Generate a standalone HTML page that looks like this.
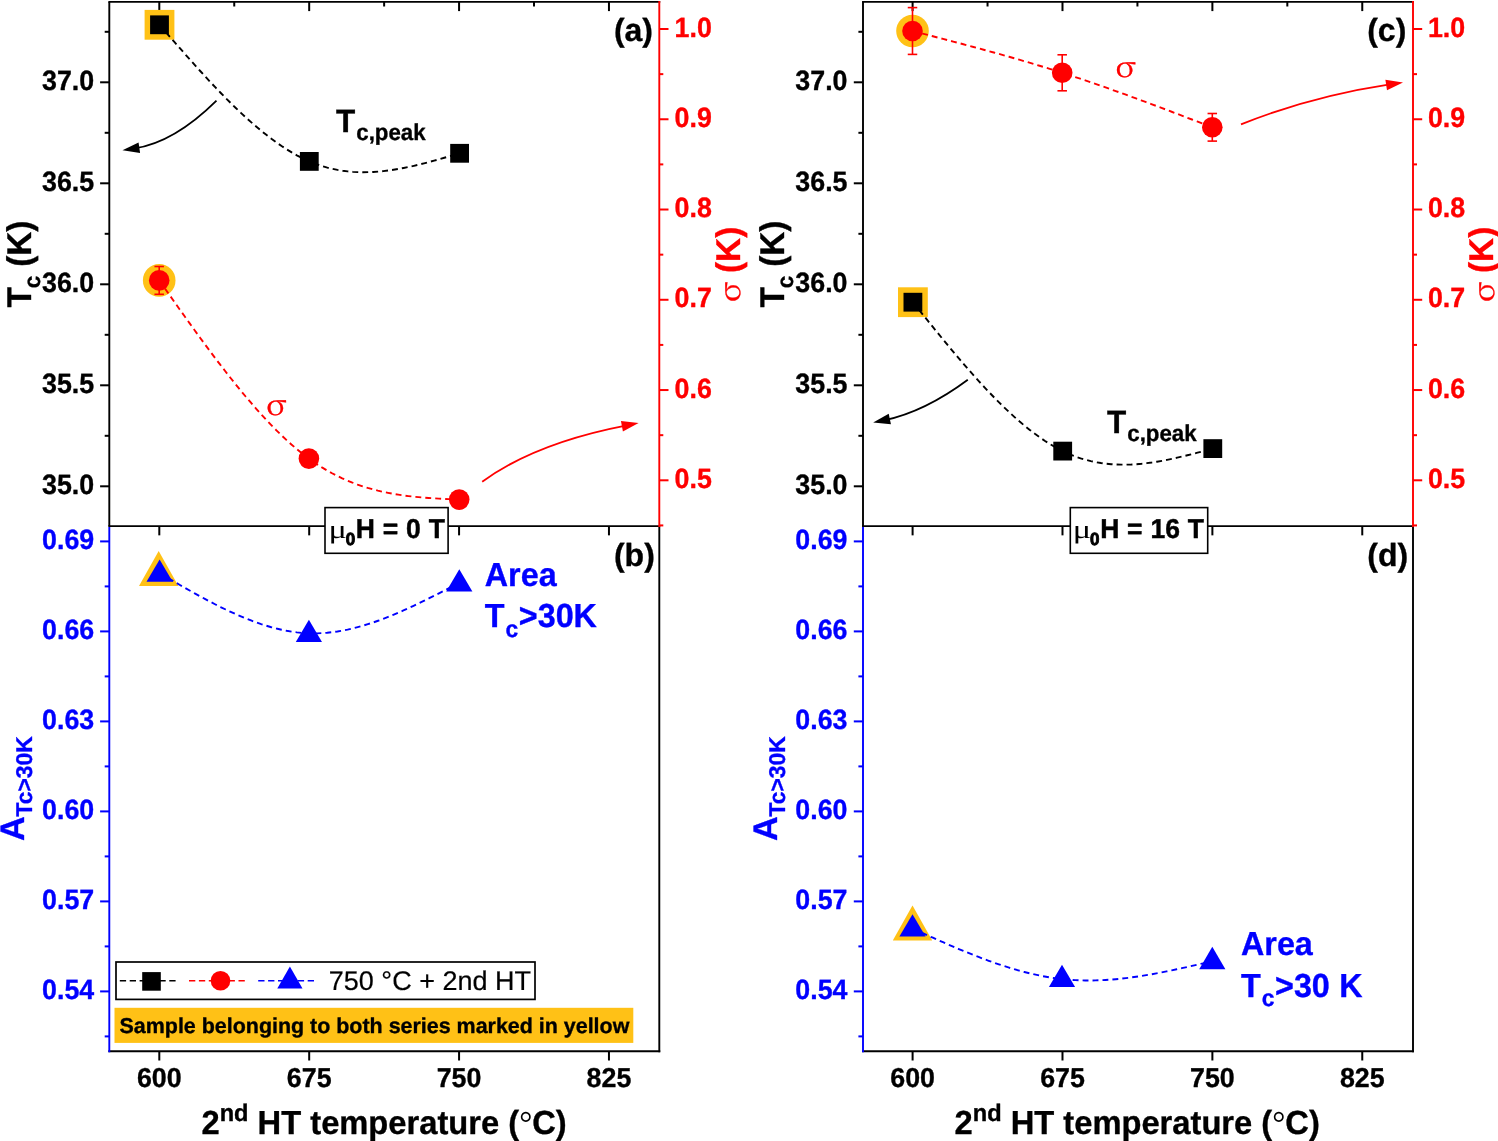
<!DOCTYPE html>
<html lang="en">
<head>
<meta charset="utf-8">
<title>Figure</title>
<style>html,body{margin:0;padding:0;background:#fff}svg{display:block}</style>
</head>
<body>
<svg width="1498" height="1141" viewBox="0 0 1498 1141" style="will-change:transform;text-rendering:geometricPrecision">
<rect x="0" y="0" width="1498" height="1141" fill="#fff"/>
<line x1="108.35" y1="1.9" x2="660.25" y2="1.9" stroke="#000" stroke-width="1.9" />
<line x1="108.35" y1="526.15" x2="660.25" y2="526.15" stroke="#000" stroke-width="1.9" />
<line x1="108.35" y1="1051.3" x2="660.25" y2="1051.3" stroke="#000" stroke-width="1.9" />
<line x1="109.3" y1="1.9" x2="109.3" y2="526.15" stroke="#000" stroke-width="1.9" />
<line x1="109.3" y1="527.1" x2="109.3" y2="1052.25" stroke="#0000ff" stroke-width="1.9" />
<line x1="659.3" y1="0.95" x2="659.3" y2="527.1" stroke="#ff0000" stroke-width="1.9" />
<line x1="659.3" y1="527.1" x2="659.3" y2="1052.25" stroke="#000" stroke-width="1.9" />
<line x1="159.3" y1="1.9" x2="159.3" y2="11.1" stroke="#000" stroke-width="2" />
<line x1="159.3" y1="526.15" x2="159.3" y2="535.35" stroke="#000" stroke-width="2" />
<line x1="159.3" y1="1051.3" x2="159.3" y2="1060.5" stroke="#000" stroke-width="2" />
<text transform="translate(159.3 1087) scale(1 1.02)" font-family="'Liberation Sans', Arial, Helvetica, sans-serif" font-size="26.8" font-weight="bold" fill="#000" stroke="#000" stroke-width="0.35" stroke-linejoin="round" text-anchor="middle">600</text>
<line x1="309.19" y1="1.9" x2="309.19" y2="11.1" stroke="#000" stroke-width="2" />
<line x1="309.19" y1="526.15" x2="309.19" y2="535.35" stroke="#000" stroke-width="2" />
<line x1="309.19" y1="1051.3" x2="309.19" y2="1060.5" stroke="#000" stroke-width="2" />
<text transform="translate(309.19 1087) scale(1 1.02)" font-family="'Liberation Sans', Arial, Helvetica, sans-serif" font-size="26.8" font-weight="bold" fill="#000" stroke="#000" stroke-width="0.35" stroke-linejoin="round" text-anchor="middle">675</text>
<line x1="459.07" y1="1.9" x2="459.07" y2="11.1" stroke="#000" stroke-width="2" />
<line x1="459.07" y1="526.15" x2="459.07" y2="535.35" stroke="#000" stroke-width="2" />
<line x1="459.07" y1="1051.3" x2="459.07" y2="1060.5" stroke="#000" stroke-width="2" />
<text transform="translate(459.07 1087) scale(1 1.02)" font-family="'Liberation Sans', Arial, Helvetica, sans-serif" font-size="26.8" font-weight="bold" fill="#000" stroke="#000" stroke-width="0.35" stroke-linejoin="round" text-anchor="middle">750</text>
<line x1="608.96" y1="1.9" x2="608.96" y2="11.1" stroke="#000" stroke-width="2" />
<line x1="608.96" y1="526.15" x2="608.96" y2="535.35" stroke="#000" stroke-width="2" />
<line x1="608.96" y1="1051.3" x2="608.96" y2="1060.5" stroke="#000" stroke-width="2" />
<text transform="translate(608.96 1087) scale(1 1.02)" font-family="'Liberation Sans', Arial, Helvetica, sans-serif" font-size="26.8" font-weight="bold" fill="#000" stroke="#000" stroke-width="0.35" stroke-linejoin="round" text-anchor="middle">825</text>
<line x1="234.24" y1="1.9" x2="234.24" y2="6.5" stroke="#000" stroke-width="2" />
<line x1="384.13" y1="1.9" x2="384.13" y2="6.5" stroke="#000" stroke-width="2" />
<line x1="534.02" y1="1.9" x2="534.02" y2="6.5" stroke="#000" stroke-width="2" />
<line x1="100.1" y1="486.3" x2="109.3" y2="486.3" stroke="#000" stroke-width="2" />
<text transform="translate(94.2 493.8) scale(1 1.04)" font-family="'Liberation Sans', Arial, Helvetica, sans-serif" font-size="26.8" font-weight="bold" fill="#000" stroke="#000" stroke-width="0.35" stroke-linejoin="round" text-anchor="end">35.0</text>
<line x1="100.1" y1="385.3" x2="109.3" y2="385.3" stroke="#000" stroke-width="2" />
<text transform="translate(94.2 392.8) scale(1 1.04)" font-family="'Liberation Sans', Arial, Helvetica, sans-serif" font-size="26.8" font-weight="bold" fill="#000" stroke="#000" stroke-width="0.35" stroke-linejoin="round" text-anchor="end">35.5</text>
<line x1="100.1" y1="284.3" x2="109.3" y2="284.3" stroke="#000" stroke-width="2" />
<text transform="translate(94.2 291.8) scale(1 1.04)" font-family="'Liberation Sans', Arial, Helvetica, sans-serif" font-size="26.8" font-weight="bold" fill="#000" stroke="#000" stroke-width="0.35" stroke-linejoin="round" text-anchor="end">36.0</text>
<line x1="100.1" y1="183.3" x2="109.3" y2="183.3" stroke="#000" stroke-width="2" />
<text transform="translate(94.2 190.8) scale(1 1.04)" font-family="'Liberation Sans', Arial, Helvetica, sans-serif" font-size="26.8" font-weight="bold" fill="#000" stroke="#000" stroke-width="0.35" stroke-linejoin="round" text-anchor="end">36.5</text>
<line x1="100.1" y1="82.3" x2="109.3" y2="82.3" stroke="#000" stroke-width="2" />
<text transform="translate(94.2 89.8) scale(1 1.04)" font-family="'Liberation Sans', Arial, Helvetica, sans-serif" font-size="26.8" font-weight="bold" fill="#000" stroke="#000" stroke-width="0.35" stroke-linejoin="round" text-anchor="end">37.0</text>
<line x1="104.7" y1="435.8" x2="109.3" y2="435.8" stroke="#000" stroke-width="2" />
<line x1="104.7" y1="334.8" x2="109.3" y2="334.8" stroke="#000" stroke-width="2" />
<line x1="104.7" y1="233.8" x2="109.3" y2="233.8" stroke="#000" stroke-width="2" />
<line x1="104.7" y1="132.8" x2="109.3" y2="132.8" stroke="#000" stroke-width="2" />
<line x1="104.7" y1="31.8" x2="109.3" y2="31.8" stroke="#000" stroke-width="2" />
<line x1="659.3" y1="480.3" x2="668.5" y2="480.3" stroke="#ff0000" stroke-width="2" />
<text transform="translate(674.6 488) scale(1 1.04)" font-family="'Liberation Sans', Arial, Helvetica, sans-serif" font-size="26.8" font-weight="bold" fill="#ff0000" stroke="#ff0000" stroke-width="0.35" stroke-linejoin="round" text-anchor="start">0.5</text>
<line x1="659.3" y1="390.04" x2="668.5" y2="390.04" stroke="#ff0000" stroke-width="2" />
<text transform="translate(674.6 397.74) scale(1 1.04)" font-family="'Liberation Sans', Arial, Helvetica, sans-serif" font-size="26.8" font-weight="bold" fill="#ff0000" stroke="#ff0000" stroke-width="0.35" stroke-linejoin="round" text-anchor="start">0.6</text>
<line x1="659.3" y1="299.78" x2="668.5" y2="299.78" stroke="#ff0000" stroke-width="2" />
<text transform="translate(674.6 307.48) scale(1 1.04)" font-family="'Liberation Sans', Arial, Helvetica, sans-serif" font-size="26.8" font-weight="bold" fill="#ff0000" stroke="#ff0000" stroke-width="0.35" stroke-linejoin="round" text-anchor="start">0.7</text>
<line x1="659.3" y1="209.52" x2="668.5" y2="209.52" stroke="#ff0000" stroke-width="2" />
<text transform="translate(674.6 217.22) scale(1 1.04)" font-family="'Liberation Sans', Arial, Helvetica, sans-serif" font-size="26.8" font-weight="bold" fill="#ff0000" stroke="#ff0000" stroke-width="0.35" stroke-linejoin="round" text-anchor="start">0.8</text>
<line x1="659.3" y1="119.26" x2="668.5" y2="119.26" stroke="#ff0000" stroke-width="2" />
<text transform="translate(674.6 126.96) scale(1 1.04)" font-family="'Liberation Sans', Arial, Helvetica, sans-serif" font-size="26.8" font-weight="bold" fill="#ff0000" stroke="#ff0000" stroke-width="0.35" stroke-linejoin="round" text-anchor="start">0.9</text>
<line x1="659.3" y1="29" x2="668.5" y2="29" stroke="#ff0000" stroke-width="2" />
<text transform="translate(674.6 36.7) scale(1 1.04)" font-family="'Liberation Sans', Arial, Helvetica, sans-serif" font-size="26.8" font-weight="bold" fill="#ff0000" stroke="#ff0000" stroke-width="0.35" stroke-linejoin="round" text-anchor="start">1.0</text>
<line x1="659.3" y1="525.43" x2="663.3" y2="525.43" stroke="#ff0000" stroke-width="2" />
<line x1="659.3" y1="435.17" x2="663.3" y2="435.17" stroke="#ff0000" stroke-width="2" />
<line x1="659.3" y1="344.91" x2="663.3" y2="344.91" stroke="#ff0000" stroke-width="2" />
<line x1="659.3" y1="254.65" x2="663.3" y2="254.65" stroke="#ff0000" stroke-width="2" />
<line x1="659.3" y1="164.39" x2="663.3" y2="164.39" stroke="#ff0000" stroke-width="2" />
<line x1="659.3" y1="74.13" x2="663.3" y2="74.13" stroke="#ff0000" stroke-width="2" />
<line x1="100.1" y1="991.4" x2="109.3" y2="991.4" stroke="#0000ff" stroke-width="2" />
<text transform="translate(94.2 998.9) scale(1 1.04)" font-family="'Liberation Sans', Arial, Helvetica, sans-serif" font-size="26.8" font-weight="bold" fill="#0000ff" stroke="#0000ff" stroke-width="0.35" stroke-linejoin="round" text-anchor="end">0.54</text>
<line x1="100.1" y1="901.4" x2="109.3" y2="901.4" stroke="#0000ff" stroke-width="2" />
<text transform="translate(94.2 908.9) scale(1 1.04)" font-family="'Liberation Sans', Arial, Helvetica, sans-serif" font-size="26.8" font-weight="bold" fill="#0000ff" stroke="#0000ff" stroke-width="0.35" stroke-linejoin="round" text-anchor="end">0.57</text>
<line x1="100.1" y1="811.4" x2="109.3" y2="811.4" stroke="#0000ff" stroke-width="2" />
<text transform="translate(94.2 818.9) scale(1 1.04)" font-family="'Liberation Sans', Arial, Helvetica, sans-serif" font-size="26.8" font-weight="bold" fill="#0000ff" stroke="#0000ff" stroke-width="0.35" stroke-linejoin="round" text-anchor="end">0.60</text>
<line x1="100.1" y1="721.4" x2="109.3" y2="721.4" stroke="#0000ff" stroke-width="2" />
<text transform="translate(94.2 728.9) scale(1 1.04)" font-family="'Liberation Sans', Arial, Helvetica, sans-serif" font-size="26.8" font-weight="bold" fill="#0000ff" stroke="#0000ff" stroke-width="0.35" stroke-linejoin="round" text-anchor="end">0.63</text>
<line x1="100.1" y1="631.4" x2="109.3" y2="631.4" stroke="#0000ff" stroke-width="2" />
<text transform="translate(94.2 638.9) scale(1 1.04)" font-family="'Liberation Sans', Arial, Helvetica, sans-serif" font-size="26.8" font-weight="bold" fill="#0000ff" stroke="#0000ff" stroke-width="0.35" stroke-linejoin="round" text-anchor="end">0.66</text>
<line x1="100.1" y1="541.4" x2="109.3" y2="541.4" stroke="#0000ff" stroke-width="2" />
<text transform="translate(94.2 548.9) scale(1 1.04)" font-family="'Liberation Sans', Arial, Helvetica, sans-serif" font-size="26.8" font-weight="bold" fill="#0000ff" stroke="#0000ff" stroke-width="0.35" stroke-linejoin="round" text-anchor="end">0.69</text>
<line x1="104.7" y1="1036.4" x2="109.3" y2="1036.4" stroke="#0000ff" stroke-width="2" />
<line x1="104.7" y1="946.4" x2="109.3" y2="946.4" stroke="#0000ff" stroke-width="2" />
<line x1="104.7" y1="856.4" x2="109.3" y2="856.4" stroke="#0000ff" stroke-width="2" />
<line x1="104.7" y1="766.4" x2="109.3" y2="766.4" stroke="#0000ff" stroke-width="2" />
<line x1="104.7" y1="676.4" x2="109.3" y2="676.4" stroke="#0000ff" stroke-width="2" />
<line x1="104.7" y1="586.4" x2="109.3" y2="586.4" stroke="#0000ff" stroke-width="2" />
<text transform="translate(31.1 307.5) rotate(-90) scale(1 1.03)" font-family="'Liberation Sans', Arial, Helvetica, sans-serif" font-size="33.3" font-weight="bold" fill="#000" stroke="#000" stroke-width="0.35" stroke-linejoin="round" text-anchor="start">T<tspan font-size="22.4" dy="8.4" dx="-1.2">c</tspan><tspan dy="-8.4" dx="-0.2"> (K)</tspan></text>
<text transform="translate(740.4 301.9) rotate(-90) scale(1.14 1)" font-family="'Noto Serif CJK SC', 'Liberation Serif', serif" font-size="28.3" font-weight="normal" fill="#ff0000" stroke="#ff0000" stroke-width="0.35">σ</text>
<text transform="translate(740.2 273) rotate(-90) scale(1 1.03)" font-family="'Liberation Sans', Arial, Helvetica, sans-serif" font-size="33.3" font-weight="bold" fill="#ff0000" stroke="#ff0000" stroke-width="0.35" stroke-linejoin="round" text-anchor="start">(K)</text>
<text transform="translate(23.5 788.7) rotate(-90) scale(1 1)" font-family="'Liberation Sans', Arial, Helvetica, sans-serif" font-size="34.1" font-weight="bold" fill="#0000ff" stroke="#0000ff" stroke-width="0.35" stroke-linejoin="round" text-anchor="middle">A<tspan font-size="22.8" dy="8.8">Tc&gt;30K</tspan></text>
<text transform="translate(384.1 1133.8) scale(1 1.02)" font-family="'Liberation Sans', Arial, Helvetica, sans-serif" font-size="32.7" font-weight="bold" fill="#000" stroke="#000" stroke-width="0.35" stroke-linejoin="round" text-anchor="middle">2<tspan font-size="23.6" dy="-13.0">nd</tspan><tspan dy="13.0"> HT temperature (</tspan><tspan font-weight="normal" font-family="'Liberation Serif', 'Times New Roman', serif" stroke-width="0">°</tspan>C)</text>
<line x1="862.05" y1="1.9" x2="1413.95" y2="1.9" stroke="#000" stroke-width="1.9" />
<line x1="862.05" y1="526.15" x2="1413.95" y2="526.15" stroke="#000" stroke-width="1.9" />
<line x1="862.05" y1="1051.3" x2="1413.95" y2="1051.3" stroke="#000" stroke-width="1.9" />
<line x1="863" y1="1.9" x2="863" y2="526.15" stroke="#000" stroke-width="1.9" />
<line x1="863" y1="527.1" x2="863" y2="1052.25" stroke="#0000ff" stroke-width="1.9" />
<line x1="1413" y1="0.95" x2="1413" y2="527.1" stroke="#ff0000" stroke-width="1.9" />
<line x1="1413" y1="527.1" x2="1413" y2="1052.25" stroke="#000" stroke-width="1.9" />
<line x1="912.6" y1="1.9" x2="912.6" y2="11.1" stroke="#000" stroke-width="2" />
<line x1="912.6" y1="526.15" x2="912.6" y2="535.35" stroke="#000" stroke-width="2" />
<line x1="912.6" y1="1051.3" x2="912.6" y2="1060.5" stroke="#000" stroke-width="2" />
<text transform="translate(912.6 1087) scale(1 1.02)" font-family="'Liberation Sans', Arial, Helvetica, sans-serif" font-size="26.8" font-weight="bold" fill="#000" stroke="#000" stroke-width="0.35" stroke-linejoin="round" text-anchor="middle">600</text>
<line x1="1062.49" y1="1.9" x2="1062.49" y2="11.1" stroke="#000" stroke-width="2" />
<line x1="1062.49" y1="526.15" x2="1062.49" y2="535.35" stroke="#000" stroke-width="2" />
<line x1="1062.49" y1="1051.3" x2="1062.49" y2="1060.5" stroke="#000" stroke-width="2" />
<text transform="translate(1062.49 1087) scale(1 1.02)" font-family="'Liberation Sans', Arial, Helvetica, sans-serif" font-size="26.8" font-weight="bold" fill="#000" stroke="#000" stroke-width="0.35" stroke-linejoin="round" text-anchor="middle">675</text>
<line x1="1212.38" y1="1.9" x2="1212.38" y2="11.1" stroke="#000" stroke-width="2" />
<line x1="1212.38" y1="526.15" x2="1212.38" y2="535.35" stroke="#000" stroke-width="2" />
<line x1="1212.38" y1="1051.3" x2="1212.38" y2="1060.5" stroke="#000" stroke-width="2" />
<text transform="translate(1212.38 1087) scale(1 1.02)" font-family="'Liberation Sans', Arial, Helvetica, sans-serif" font-size="26.8" font-weight="bold" fill="#000" stroke="#000" stroke-width="0.35" stroke-linejoin="round" text-anchor="middle">750</text>
<line x1="1362.26" y1="1.9" x2="1362.26" y2="11.1" stroke="#000" stroke-width="2" />
<line x1="1362.26" y1="526.15" x2="1362.26" y2="535.35" stroke="#000" stroke-width="2" />
<line x1="1362.26" y1="1051.3" x2="1362.26" y2="1060.5" stroke="#000" stroke-width="2" />
<text transform="translate(1362.26 1087) scale(1 1.02)" font-family="'Liberation Sans', Arial, Helvetica, sans-serif" font-size="26.8" font-weight="bold" fill="#000" stroke="#000" stroke-width="0.35" stroke-linejoin="round" text-anchor="middle">825</text>
<line x1="987.54" y1="1.9" x2="987.54" y2="6.5" stroke="#000" stroke-width="2" />
<line x1="1137.43" y1="1.9" x2="1137.43" y2="6.5" stroke="#000" stroke-width="2" />
<line x1="1287.32" y1="1.9" x2="1287.32" y2="6.5" stroke="#000" stroke-width="2" />
<line x1="853.8" y1="486.3" x2="863" y2="486.3" stroke="#000" stroke-width="2" />
<text transform="translate(847.5 493.8) scale(1 1.04)" font-family="'Liberation Sans', Arial, Helvetica, sans-serif" font-size="26.8" font-weight="bold" fill="#000" stroke="#000" stroke-width="0.35" stroke-linejoin="round" text-anchor="end">35.0</text>
<line x1="853.8" y1="385.3" x2="863" y2="385.3" stroke="#000" stroke-width="2" />
<text transform="translate(847.5 392.8) scale(1 1.04)" font-family="'Liberation Sans', Arial, Helvetica, sans-serif" font-size="26.8" font-weight="bold" fill="#000" stroke="#000" stroke-width="0.35" stroke-linejoin="round" text-anchor="end">35.5</text>
<line x1="853.8" y1="284.3" x2="863" y2="284.3" stroke="#000" stroke-width="2" />
<text transform="translate(847.5 291.8) scale(1 1.04)" font-family="'Liberation Sans', Arial, Helvetica, sans-serif" font-size="26.8" font-weight="bold" fill="#000" stroke="#000" stroke-width="0.35" stroke-linejoin="round" text-anchor="end">36.0</text>
<line x1="853.8" y1="183.3" x2="863" y2="183.3" stroke="#000" stroke-width="2" />
<text transform="translate(847.5 190.8) scale(1 1.04)" font-family="'Liberation Sans', Arial, Helvetica, sans-serif" font-size="26.8" font-weight="bold" fill="#000" stroke="#000" stroke-width="0.35" stroke-linejoin="round" text-anchor="end">36.5</text>
<line x1="853.8" y1="82.3" x2="863" y2="82.3" stroke="#000" stroke-width="2" />
<text transform="translate(847.5 89.8) scale(1 1.04)" font-family="'Liberation Sans', Arial, Helvetica, sans-serif" font-size="26.8" font-weight="bold" fill="#000" stroke="#000" stroke-width="0.35" stroke-linejoin="round" text-anchor="end">37.0</text>
<line x1="858.4" y1="435.8" x2="863" y2="435.8" stroke="#000" stroke-width="2" />
<line x1="858.4" y1="334.8" x2="863" y2="334.8" stroke="#000" stroke-width="2" />
<line x1="858.4" y1="233.8" x2="863" y2="233.8" stroke="#000" stroke-width="2" />
<line x1="858.4" y1="132.8" x2="863" y2="132.8" stroke="#000" stroke-width="2" />
<line x1="858.4" y1="31.8" x2="863" y2="31.8" stroke="#000" stroke-width="2" />
<line x1="1413" y1="480.3" x2="1422.2" y2="480.3" stroke="#ff0000" stroke-width="2" />
<text transform="translate(1427.9 488) scale(1 1.04)" font-family="'Liberation Sans', Arial, Helvetica, sans-serif" font-size="26.8" font-weight="bold" fill="#ff0000" stroke="#ff0000" stroke-width="0.35" stroke-linejoin="round" text-anchor="start">0.5</text>
<line x1="1413" y1="390.04" x2="1422.2" y2="390.04" stroke="#ff0000" stroke-width="2" />
<text transform="translate(1427.9 397.74) scale(1 1.04)" font-family="'Liberation Sans', Arial, Helvetica, sans-serif" font-size="26.8" font-weight="bold" fill="#ff0000" stroke="#ff0000" stroke-width="0.35" stroke-linejoin="round" text-anchor="start">0.6</text>
<line x1="1413" y1="299.78" x2="1422.2" y2="299.78" stroke="#ff0000" stroke-width="2" />
<text transform="translate(1427.9 307.48) scale(1 1.04)" font-family="'Liberation Sans', Arial, Helvetica, sans-serif" font-size="26.8" font-weight="bold" fill="#ff0000" stroke="#ff0000" stroke-width="0.35" stroke-linejoin="round" text-anchor="start">0.7</text>
<line x1="1413" y1="209.52" x2="1422.2" y2="209.52" stroke="#ff0000" stroke-width="2" />
<text transform="translate(1427.9 217.22) scale(1 1.04)" font-family="'Liberation Sans', Arial, Helvetica, sans-serif" font-size="26.8" font-weight="bold" fill="#ff0000" stroke="#ff0000" stroke-width="0.35" stroke-linejoin="round" text-anchor="start">0.8</text>
<line x1="1413" y1="119.26" x2="1422.2" y2="119.26" stroke="#ff0000" stroke-width="2" />
<text transform="translate(1427.9 126.96) scale(1 1.04)" font-family="'Liberation Sans', Arial, Helvetica, sans-serif" font-size="26.8" font-weight="bold" fill="#ff0000" stroke="#ff0000" stroke-width="0.35" stroke-linejoin="round" text-anchor="start">0.9</text>
<line x1="1413" y1="29" x2="1422.2" y2="29" stroke="#ff0000" stroke-width="2" />
<text transform="translate(1427.9 36.7) scale(1 1.04)" font-family="'Liberation Sans', Arial, Helvetica, sans-serif" font-size="26.8" font-weight="bold" fill="#ff0000" stroke="#ff0000" stroke-width="0.35" stroke-linejoin="round" text-anchor="start">1.0</text>
<line x1="1413" y1="525.43" x2="1417" y2="525.43" stroke="#ff0000" stroke-width="2" />
<line x1="1413" y1="435.17" x2="1417" y2="435.17" stroke="#ff0000" stroke-width="2" />
<line x1="1413" y1="344.91" x2="1417" y2="344.91" stroke="#ff0000" stroke-width="2" />
<line x1="1413" y1="254.65" x2="1417" y2="254.65" stroke="#ff0000" stroke-width="2" />
<line x1="1413" y1="164.39" x2="1417" y2="164.39" stroke="#ff0000" stroke-width="2" />
<line x1="1413" y1="74.13" x2="1417" y2="74.13" stroke="#ff0000" stroke-width="2" />
<line x1="853.8" y1="991.4" x2="863" y2="991.4" stroke="#0000ff" stroke-width="2" />
<text transform="translate(847.5 998.9) scale(1 1.04)" font-family="'Liberation Sans', Arial, Helvetica, sans-serif" font-size="26.8" font-weight="bold" fill="#0000ff" stroke="#0000ff" stroke-width="0.35" stroke-linejoin="round" text-anchor="end">0.54</text>
<line x1="853.8" y1="901.4" x2="863" y2="901.4" stroke="#0000ff" stroke-width="2" />
<text transform="translate(847.5 908.9) scale(1 1.04)" font-family="'Liberation Sans', Arial, Helvetica, sans-serif" font-size="26.8" font-weight="bold" fill="#0000ff" stroke="#0000ff" stroke-width="0.35" stroke-linejoin="round" text-anchor="end">0.57</text>
<line x1="853.8" y1="811.4" x2="863" y2="811.4" stroke="#0000ff" stroke-width="2" />
<text transform="translate(847.5 818.9) scale(1 1.04)" font-family="'Liberation Sans', Arial, Helvetica, sans-serif" font-size="26.8" font-weight="bold" fill="#0000ff" stroke="#0000ff" stroke-width="0.35" stroke-linejoin="round" text-anchor="end">0.60</text>
<line x1="853.8" y1="721.4" x2="863" y2="721.4" stroke="#0000ff" stroke-width="2" />
<text transform="translate(847.5 728.9) scale(1 1.04)" font-family="'Liberation Sans', Arial, Helvetica, sans-serif" font-size="26.8" font-weight="bold" fill="#0000ff" stroke="#0000ff" stroke-width="0.35" stroke-linejoin="round" text-anchor="end">0.63</text>
<line x1="853.8" y1="631.4" x2="863" y2="631.4" stroke="#0000ff" stroke-width="2" />
<text transform="translate(847.5 638.9) scale(1 1.04)" font-family="'Liberation Sans', Arial, Helvetica, sans-serif" font-size="26.8" font-weight="bold" fill="#0000ff" stroke="#0000ff" stroke-width="0.35" stroke-linejoin="round" text-anchor="end">0.66</text>
<line x1="853.8" y1="541.4" x2="863" y2="541.4" stroke="#0000ff" stroke-width="2" />
<text transform="translate(847.5 548.9) scale(1 1.04)" font-family="'Liberation Sans', Arial, Helvetica, sans-serif" font-size="26.8" font-weight="bold" fill="#0000ff" stroke="#0000ff" stroke-width="0.35" stroke-linejoin="round" text-anchor="end">0.69</text>
<line x1="858.4" y1="1036.4" x2="863" y2="1036.4" stroke="#0000ff" stroke-width="2" />
<line x1="858.4" y1="946.4" x2="863" y2="946.4" stroke="#0000ff" stroke-width="2" />
<line x1="858.4" y1="856.4" x2="863" y2="856.4" stroke="#0000ff" stroke-width="2" />
<line x1="858.4" y1="766.4" x2="863" y2="766.4" stroke="#0000ff" stroke-width="2" />
<line x1="858.4" y1="676.4" x2="863" y2="676.4" stroke="#0000ff" stroke-width="2" />
<line x1="858.4" y1="586.4" x2="863" y2="586.4" stroke="#0000ff" stroke-width="2" />
<text transform="translate(784.2 307.5) rotate(-90) scale(1 1.03)" font-family="'Liberation Sans', Arial, Helvetica, sans-serif" font-size="33.3" font-weight="bold" fill="#000" stroke="#000" stroke-width="0.35" stroke-linejoin="round" text-anchor="start">T<tspan font-size="22.4" dy="8.4" dx="-1.2">c</tspan><tspan dy="-8.4" dx="-0.2"> (K)</tspan></text>
<text transform="translate(1493.5 301.9) rotate(-90) scale(1.14 1)" font-family="'Noto Serif CJK SC', 'Liberation Serif', serif" font-size="28.3" font-weight="normal" fill="#ff0000" stroke="#ff0000" stroke-width="0.35">σ</text>
<text transform="translate(1493.3 273) rotate(-90) scale(1 1.03)" font-family="'Liberation Sans', Arial, Helvetica, sans-serif" font-size="33.3" font-weight="bold" fill="#ff0000" stroke="#ff0000" stroke-width="0.35" stroke-linejoin="round" text-anchor="start">(K)</text>
<text transform="translate(776.6 788.7) rotate(-90) scale(1 1)" font-family="'Liberation Sans', Arial, Helvetica, sans-serif" font-size="34.1" font-weight="bold" fill="#0000ff" stroke="#0000ff" stroke-width="0.35" stroke-linejoin="round" text-anchor="middle">A<tspan font-size="22.8" dy="8.8">Tc&gt;30K</tspan></text>
<text transform="translate(1137.2 1133.8) scale(1 1.02)" font-family="'Liberation Sans', Arial, Helvetica, sans-serif" font-size="32.7" font-weight="bold" fill="#000" stroke="#000" stroke-width="0.35" stroke-linejoin="round" text-anchor="middle">2<tspan font-size="23.6" dy="-13.0">nd</tspan><tspan dy="13.0"> HT temperature (</tspan><tspan font-weight="normal" font-family="'Liberation Serif', 'Times New Roman', serif" stroke-width="0">°</tspan>C)</text>
<rect x="144.6" y="9.9" width="29.8" height="29.8" fill="#ffc116"/>
<circle cx="159.2" cy="280.4" r="16.3" fill="#ffc116"/>
<polygon points="158.7,551.1 178.4,585.9 139,585.9" fill="#ffc116"/>
<rect x="898" y="287.3" width="29.8" height="29.8" fill="#ffc116"/>
<circle cx="912.5" cy="31" r="16.3" fill="#ffc116"/>
<polygon points="912.5,905.6 932.2,940.4 892.8,940.4" fill="#ffc116"/>
<path d="M159.5 24.8 L164.59 30.66 L169.67 36.52 L174.76 42.35 L179.85 48.17 L184.93 53.94 L190.02 59.68 L195.11 65.37 L200.19 70.99 L205.28 76.55 L210.36 82.03 L215.45 87.43 L220.54 92.73 L225.62 97.93 L230.71 103.02 L235.8 107.99 L240.88 112.84 L245.97 117.55 L251.06 122.11 L256.14 126.53 L261.23 130.78 L266.32 134.86 L271.4 138.76 L276.49 142.48 L281.57 146 L286.66 149.32 L291.75 152.43 L296.83 155.31 L301.92 157.97 L307.01 160.39 L312.09 162.56 L317.18 164.49 L322.27 166.18 L327.35 167.65 L332.44 168.89 L337.53 169.93 L342.61 170.76 L347.7 171.39 L352.78 171.84 L357.87 172.11 L362.96 172.22 L368.04 172.16 L373.13 171.95 L378.22 171.6 L383.3 171.11 L388.39 170.49 L393.48 169.76 L398.56 168.92 L403.65 167.97 L408.74 166.93 L413.82 165.81 L418.91 164.61 L423.99 163.35 L429.08 162.02 L434.17 160.65 L439.25 159.23 L444.34 157.77 L449.43 156.3 L454.51 154.8 L459.6 153.3" fill="none" stroke="#000" stroke-width="1.9" stroke-dasharray="5.9 4.05"/>
<path d="M159.2 280.4 L164.28 287.62 L169.37 294.82 L174.45 302.01 L179.54 309.18 L184.62 316.32 L189.71 323.41 L194.79 330.46 L199.88 337.45 L204.96 344.37 L210.05 351.23 L215.13 358 L220.22 364.68 L225.3 371.27 L230.39 377.75 L235.47 384.12 L240.56 390.37 L245.64 396.49 L250.73 402.47 L255.81 408.31 L260.89 413.99 L265.98 419.52 L271.06 424.87 L276.15 430.05 L281.23 435.04 L286.32 439.84 L291.4 444.43 L296.49 448.82 L301.57 452.99 L306.66 456.93 L311.74 460.65 L316.83 464.12 L321.91 467.38 L327 470.41 L332.08 473.24 L337.17 475.87 L342.25 478.3 L347.34 480.55 L352.42 482.63 L357.51 484.53 L362.59 486.28 L367.67 487.87 L372.76 489.32 L377.84 490.63 L382.93 491.81 L388.01 492.87 L393.1 493.82 L398.18 494.67 L403.27 495.42 L408.35 496.08 L413.44 496.66 L418.52 497.17 L423.61 497.61 L428.69 498 L433.78 498.34 L438.86 498.64 L443.95 498.91 L449.03 499.15 L454.12 499.38 L459.2 499.6" fill="none" stroke="#ff0000" stroke-width="1.9" stroke-dasharray="5.9 4.05"/>
<path d="M159.6 573.1 L164.68 576.08 L169.76 579.06 L174.84 582.02 L179.92 584.96 L185 587.88 L190.08 590.77 L195.16 593.61 L200.24 596.41 L205.32 599.16 L210.4 601.85 L215.48 604.47 L220.56 607.03 L225.64 609.5 L230.72 611.89 L235.79 614.2 L240.87 616.4 L245.95 618.5 L251.03 620.49 L256.11 622.36 L261.19 624.11 L266.27 625.72 L271.35 627.21 L276.43 628.54 L281.51 629.73 L286.59 630.77 L291.67 631.64 L296.75 632.34 L301.83 632.87 L306.91 633.22 L311.99 633.37 L317.07 633.34 L322.15 633.13 L327.23 632.75 L332.31 632.2 L337.39 631.49 L342.47 630.62 L347.55 629.6 L352.63 628.45 L357.71 627.15 L362.79 625.73 L367.87 624.19 L372.95 622.53 L378.03 620.76 L383.11 618.89 L388.18 616.92 L393.26 614.86 L398.34 612.71 L403.42 610.49 L408.5 608.2 L413.58 605.84 L418.66 603.43 L423.74 600.96 L428.82 598.45 L433.9 595.9 L438.98 593.32 L444.06 590.71 L449.14 588.09 L454.22 585.45 L459.3 582.8" fill="none" stroke="#0000ff" stroke-width="1.9" stroke-dasharray="5.9 4.05"/>
<path d="M912.9 302.2 L917.98 308.53 L923.07 314.86 L928.15 321.17 L933.23 327.45 L938.32 333.69 L943.4 339.89 L948.48 346.04 L953.56 352.13 L958.65 358.14 L963.73 364.08 L968.81 369.92 L973.9 375.67 L978.98 381.32 L984.06 386.84 L989.15 392.25 L994.23 397.52 L999.31 402.65 L1004.39 407.62 L1009.48 412.44 L1014.56 417.09 L1019.64 421.57 L1024.73 425.85 L1029.81 429.94 L1034.89 433.83 L1039.98 437.51 L1045.06 440.96 L1050.14 444.18 L1055.23 447.17 L1060.31 449.9 L1065.39 452.38 L1070.47 454.6 L1075.56 456.58 L1080.64 458.31 L1085.72 459.82 L1090.81 461.11 L1095.89 462.18 L1100.97 463.05 L1106.06 463.72 L1111.14 464.21 L1116.22 464.52 L1121.31 464.67 L1126.39 464.65 L1131.47 464.49 L1136.55 464.18 L1141.64 463.74 L1146.72 463.17 L1151.8 462.5 L1156.89 461.71 L1161.97 460.83 L1167.05 459.86 L1172.14 458.81 L1177.22 457.69 L1182.3 456.5 L1187.38 455.27 L1192.47 453.99 L1197.55 452.67 L1202.63 451.33 L1207.72 449.97 L1212.8 448.6" fill="none" stroke="#000" stroke-width="1.9" stroke-dasharray="5.9 4.05"/>
<path d="M912.5 31 L917.58 32.31 L922.66 33.63 L927.74 34.94 L932.83 36.26 L937.91 37.58 L942.99 38.9 L948.07 40.23 L953.15 41.56 L958.23 42.9 L963.31 44.25 L968.39 45.6 L973.48 46.96 L978.56 48.33 L983.64 49.71 L988.72 51.1 L993.8 52.5 L998.88 53.91 L1003.96 55.34 L1009.05 56.78 L1014.13 58.23 L1019.21 59.7 L1024.29 61.18 L1029.37 62.68 L1034.45 64.19 L1039.53 65.73 L1044.62 67.28 L1049.7 68.85 L1054.78 70.44 L1059.86 72.05 L1064.94 73.68 L1070.02 75.34 L1075.1 77.01 L1080.18 78.71 L1085.27 80.42 L1090.35 82.15 L1095.43 83.9 L1100.51 85.66 L1105.59 87.45 L1110.67 89.24 L1115.75 91.06 L1120.84 92.88 L1125.92 94.72 L1131 96.57 L1136.08 98.44 L1141.16 100.31 L1146.24 102.2 L1151.32 104.09 L1156.41 105.99 L1161.49 107.91 L1166.57 109.82 L1171.65 111.75 L1176.73 113.68 L1181.81 115.62 L1186.89 117.56 L1191.97 119.5 L1197.06 121.45 L1202.14 123.4 L1207.22 125.35 L1212.3 127.3" fill="none" stroke="#ff0000" stroke-width="1.9" stroke-dasharray="5.9 4.05"/>
<path d="M912.5 928.6 L917.58 930.89 L922.66 933.19 L927.74 935.47 L932.83 937.74 L937.91 939.99 L942.99 942.23 L948.07 944.44 L953.15 946.62 L958.23 948.77 L963.31 950.88 L968.39 952.96 L973.48 954.99 L978.56 956.97 L983.64 958.9 L988.72 960.77 L993.8 962.59 L998.88 964.33 L1003.96 966.02 L1009.05 967.62 L1014.13 969.16 L1019.21 970.61 L1024.29 971.98 L1029.37 973.26 L1034.45 974.44 L1039.53 975.53 L1044.62 976.52 L1049.7 977.41 L1054.78 978.19 L1059.86 978.85 L1064.94 979.4 L1070.02 979.84 L1075.1 980.16 L1080.18 980.37 L1085.27 980.48 L1090.35 980.5 L1095.43 980.41 L1100.51 980.23 L1105.59 979.97 L1110.67 979.62 L1115.75 979.19 L1120.84 978.69 L1125.92 978.11 L1131 977.47 L1136.08 976.76 L1141.16 975.99 L1146.24 975.17 L1151.32 974.3 L1156.41 973.37 L1161.49 972.41 L1166.57 971.4 L1171.65 970.36 L1176.73 969.28 L1181.81 968.18 L1186.89 967.05 L1191.97 965.91 L1197.06 964.74 L1202.14 963.57 L1207.22 962.39 L1212.3 961.2" fill="none" stroke="#0000ff" stroke-width="1.9" stroke-dasharray="5.9 4.05"/>
<rect x="150.1" y="15.4" width="18.8" height="18.8" fill="#000"/>
<rect x="299.9" y="152" width="18.8" height="18.8" fill="#000"/>
<rect x="450.2" y="143.9" width="18.8" height="18.8" fill="#000"/>
<rect x="903.5" y="292.8" width="18.8" height="18.8" fill="#000"/>
<rect x="1053.3" y="441.7" width="18.8" height="18.8" fill="#000"/>
<rect x="1203.4" y="439.2" width="18.8" height="18.8" fill="#000"/>
<line x1="159.2" y1="266.5" x2="159.2" y2="294.3" stroke="#ff0000" stroke-width="1.6" />
<line x1="154.45" y1="266.5" x2="163.95" y2="266.5" stroke="#ff0000" stroke-width="1.6" />
<line x1="154.45" y1="294.3" x2="163.95" y2="294.3" stroke="#ff0000" stroke-width="1.6" />
<line x1="912.5" y1="7.6" x2="912.5" y2="54.4" stroke="#ff0000" stroke-width="1.6" />
<line x1="907.75" y1="7.6" x2="917.25" y2="7.6" stroke="#ff0000" stroke-width="1.6" />
<line x1="907.75" y1="54.4" x2="917.25" y2="54.4" stroke="#ff0000" stroke-width="1.6" />
<line x1="1062.2" y1="54.8" x2="1062.2" y2="90.8" stroke="#ff0000" stroke-width="1.6" />
<line x1="1057.45" y1="54.8" x2="1066.95" y2="54.8" stroke="#ff0000" stroke-width="1.6" />
<line x1="1057.45" y1="90.8" x2="1066.95" y2="90.8" stroke="#ff0000" stroke-width="1.6" />
<line x1="1212.3" y1="113.5" x2="1212.3" y2="141.1" stroke="#ff0000" stroke-width="1.6" />
<line x1="1207.55" y1="113.5" x2="1217.05" y2="113.5" stroke="#ff0000" stroke-width="1.6" />
<line x1="1207.55" y1="141.1" x2="1217.05" y2="141.1" stroke="#ff0000" stroke-width="1.6" />
<circle cx="159.2" cy="280.4" r="10.3" fill="#ff0000"/>
<circle cx="308.9" cy="458.6" r="10.3" fill="#ff0000"/>
<circle cx="459.2" cy="499.6" r="10.3" fill="#ff0000"/>
<circle cx="912.5" cy="31" r="10.3" fill="#ff0000"/>
<circle cx="1062.2" cy="72.8" r="10.3" fill="#ff0000"/>
<circle cx="1212.3" cy="127.3" r="10.3" fill="#ff0000"/>
<polygon points="159.6,559.53 172.7,581.83 146.5,581.83" fill="#0000ff"/>
<polygon points="308.9,619.73 322,642.03 295.8,642.03" fill="#0000ff"/>
<polygon points="459.3,569.23 472.4,591.53 446.2,591.53" fill="#0000ff"/>
<polygon points="912.5,914.23 925.6,936.53 899.4,936.53" fill="#0000ff"/>
<polygon points="1062,964.73 1075.1,987.03 1048.9,987.03" fill="#0000ff"/>
<polygon points="1212.3,946.83 1225.4,969.13 1199.2,969.13" fill="#0000ff"/>
<path d="M216.5 100.6 Q174 142.6 134.27 148.46" fill="none" stroke="#000" stroke-width="1.8"/>
<polygon points="122.5,150.2 138.54,142.47 140.09,152.96" fill="#000"/>
<path d="M482.2 481.8 Q535 443 626.91 425.34" fill="none" stroke="#ff0000" stroke-width="1.8"/>
<polygon points="638.6,423.1 622.9,431.51 620.91,421.1" fill="#ff0000"/>
<path d="M967.8 379.7 Q925 411.5 884.84 420.11" fill="none" stroke="#000" stroke-width="1.8"/>
<polygon points="873.2,422.6 888.71,413.86 890.93,424.22" fill="#000"/>
<path d="M1241 124.4 Q1310 96.5 1391.23 84.18" fill="none" stroke="#ff0000" stroke-width="1.8"/>
<polygon points="1403,82.4 1386.99,90.19 1385.4,79.71" fill="#ff0000"/>
<text transform="translate(653 40.6) scale(1 1)" font-family="'Liberation Sans', Arial, Helvetica, sans-serif" font-size="32" font-weight="bold" fill="#000" stroke="#000" stroke-width="0.35" stroke-linejoin="round" text-anchor="end">(a)</text>
<text transform="translate(654.8 565.6) scale(1 1)" font-family="'Liberation Sans', Arial, Helvetica, sans-serif" font-size="32" font-weight="bold" fill="#000" stroke="#000" stroke-width="0.35" stroke-linejoin="round" text-anchor="end">(b)</text>
<text transform="translate(1406.3 40.6) scale(1 1)" font-family="'Liberation Sans', Arial, Helvetica, sans-serif" font-size="32" font-weight="bold" fill="#000" stroke="#000" stroke-width="0.35" stroke-linejoin="round" text-anchor="end">(c)</text>
<text transform="translate(1408.1 565.6) scale(1 1)" font-family="'Liberation Sans', Arial, Helvetica, sans-serif" font-size="32" font-weight="bold" fill="#000" stroke="#000" stroke-width="0.35" stroke-linejoin="round" text-anchor="end">(d)</text>
<text transform="translate(336 132) scale(1 1.03)" font-family="'Liberation Sans', Arial, Helvetica, sans-serif" font-size="31.5" font-weight="bold" fill="#000" stroke="#000" stroke-width="0.35" stroke-linejoin="round" text-anchor="start">T<tspan font-size="22.3" dy="8.2" dx="1.0">c,peak</tspan></text>
<text transform="translate(1107 432.7) scale(1 1.03)" font-family="'Liberation Sans', Arial, Helvetica, sans-serif" font-size="31.5" font-weight="bold" fill="#000" stroke="#000" stroke-width="0.35" stroke-linejoin="round" text-anchor="start">T<tspan font-size="22.3" dy="8.2" dx="1.0">c,peak</tspan></text>
<text transform="translate(266.3 415.3) scale(1.14 1)" font-family="'Noto Serif CJK SC', 'Liberation Serif', serif" font-size="28.3" font-weight="normal" fill="#ff0000" stroke="#ff0000" stroke-width="0.35">σ</text>
<text transform="translate(1115.4 77.1) scale(1.14 1)" font-family="'Noto Serif CJK SC', 'Liberation Serif', serif" font-size="28.3" font-weight="normal" fill="#ff0000" stroke="#ff0000" stroke-width="0.35">σ</text>
<text transform="translate(484.8 585.5) scale(1 1.03)" font-family="'Liberation Sans', Arial, Helvetica, sans-serif" font-size="32.3" font-weight="bold" fill="#0000ff" stroke="#0000ff" stroke-width="0.35" stroke-linejoin="round" text-anchor="start">Area</text>
<text transform="translate(484.8 627.2) scale(1 1.03)" font-family="'Liberation Sans', Arial, Helvetica, sans-serif" font-size="32.3" font-weight="bold" fill="#0000ff" stroke="#0000ff" stroke-width="0.35" stroke-linejoin="round" text-anchor="start" word-spacing="0.6">T<tspan font-size="22.8" dy="9.1" dx="0.9">c</tspan><tspan dy="-9.1" dx="0.7">&gt;30K</tspan></text>
<text transform="translate(1241 954.8) scale(1 1.03)" font-family="'Liberation Sans', Arial, Helvetica, sans-serif" font-size="32.3" font-weight="bold" fill="#0000ff" stroke="#0000ff" stroke-width="0.35" stroke-linejoin="round" text-anchor="start">Area</text>
<text transform="translate(1241 996.5) scale(1 1.03)" font-family="'Liberation Sans', Arial, Helvetica, sans-serif" font-size="32.3" font-weight="bold" fill="#0000ff" stroke="#0000ff" stroke-width="0.35" stroke-linejoin="round" text-anchor="start" word-spacing="0.6">T<tspan font-size="22.8" dy="9.1" dx="0.9">c</tspan><tspan dy="-9.1" dx="0.7">&gt;30 K</tspan></text>
<rect x="325" y="507.6" width="123.1" height="45.7" fill="#fff" stroke="#000" stroke-width="1.6"/>
<text transform="translate(328.4 537.6) scale(1.32 1)" font-family="'Liberation Serif', 'Times New Roman', serif" font-size="26" font-weight="normal" fill="#000">μ</text>
<text transform="translate(345.5 537.6) scale(1 1.03)" font-family="'Liberation Sans', Arial, Helvetica, sans-serif" font-size="26.5" font-weight="bold" fill="#000" stroke="#000" stroke-width="0.45" stroke-linejoin="round" text-anchor="start" word-spacing="0.45"><tspan font-size="17" dy="6.8" dx="0.3" stroke-width="0.9">0</tspan><tspan dy="-6.8" dx="0.6">H = 0 T</tspan></text>
<rect x="1070.3" y="507.6" width="137.4" height="45.7" fill="#fff" stroke="#000" stroke-width="1.6"/>
<text transform="translate(1072.7 537.6) scale(1.32 1)" font-family="'Liberation Serif', 'Times New Roman', serif" font-size="26" font-weight="normal" fill="#000">μ</text>
<text transform="translate(1089.8 537.6) scale(1 1.03)" font-family="'Liberation Sans', Arial, Helvetica, sans-serif" font-size="26.5" font-weight="bold" fill="#000" stroke="#000" stroke-width="0.45" stroke-linejoin="round" text-anchor="start" word-spacing="0.45"><tspan font-size="17" dy="6.8" dx="0.3" stroke-width="0.9">0</tspan><tspan dy="-6.8" dx="0.6">H = 16 T</tspan></text>
<rect x="116.0" y="962.0" width="419.0" height="37.4" fill="#fff" stroke="#000" stroke-width="1.7"/>
<line x1="119.8" y1="980.7" x2="178.5" y2="980.7" stroke="#000" stroke-width="1.6" stroke-dasharray="6.3 3.6"/>
<rect x="142.2" y="972.1" width="18.6" height="18.6" fill="#000"/>
<line x1="189" y1="980.7" x2="247.8" y2="980.7" stroke="#ff0000" stroke-width="1.6" stroke-dasharray="6.3 3.6"/>
<circle cx="220.5" cy="980.7" r="9.8" fill="#ff0000"/>
<line x1="258.2" y1="980.7" x2="317" y2="980.7" stroke="#0000ff" stroke-width="1.6" stroke-dasharray="6.3 3.6"/>
<polygon points="289.9,966.43 302.5,988.43 277.3,988.43" fill="#0000ff"/>
<text transform="translate(328.8 989.6) scale(1 1)" font-family="'Liberation Sans', Arial, Helvetica, sans-serif" font-size="27" font-weight="normal" fill="#000" stroke="#000" stroke-width="0.2" stroke-linejoin="round" text-anchor="start">750 °C + 2nd HT</text>
<rect x="114.5" y="1007.8" width="518.8" height="35.1" fill="#ffc116"/>
<text transform="translate(119.5 1033.2) scale(1 1)" font-family="'Liberation Sans', Arial, Helvetica, sans-serif" font-size="21.45" font-weight="bold" fill="#000" stroke="#000" stroke-width="0.35" stroke-linejoin="round" text-anchor="start">Sample belonging to both series marked in yellow</text>
</svg>
</body>
</html>
